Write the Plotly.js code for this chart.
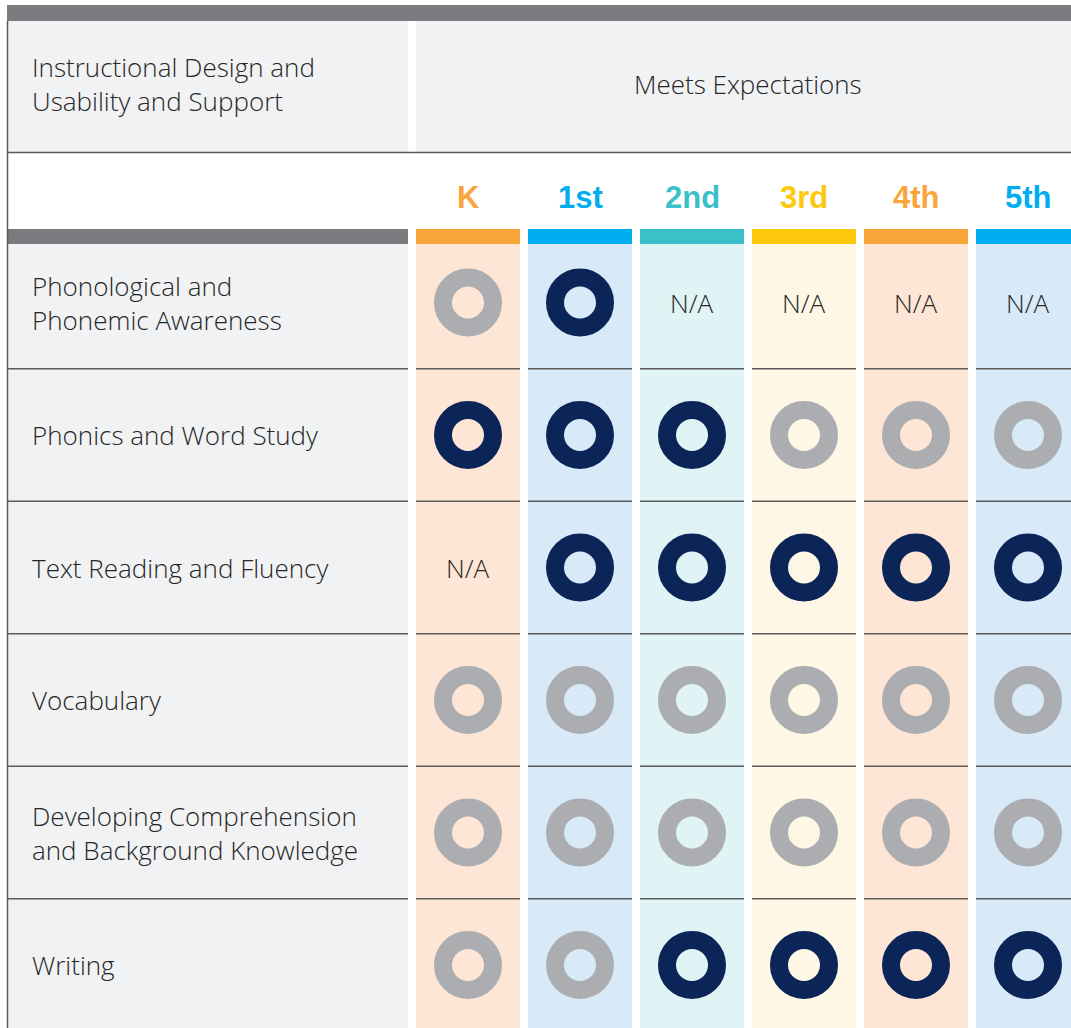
<!DOCTYPE html>
<html>
<head>
<meta charset="utf-8">
<script src="https://cdn.plot.ly/plotly-3.0.1.min.js"></script>
<style>html,body{margin:0;padding:0;background:#fff;}#chart{width:1071px;height:1028px;}</style>
</head>
<body>
<div id="chart"></div>
<script>
// ---- data ----
const grades = ['K', '1st', '2nd', '3rd', '4th', '5th'];
const gradeColors = ['#f9a53c', '#00aeef', '#3bc0c9', '#fec80d', '#f9a53c', '#00aeef'];
const gradeBg = ['#fde6d5', '#d8eaf7', '#e0f3f5', '#fef7e5', '#fde6d5', '#d8eaf7'];
const criteria = [
  'Phonological and<br>Phonemic Awareness',
  'Phonics and Word Study',
  'Text Reading and Fluency',
  'Vocabulary',
  'Developing Comprehension<br>and Background Knowledge',
  'Writing'
];
// M = meets (dark ring), P = partially meets (gray ring), NA = not applicable
const phonological = ['P', 'M', 'NA', 'NA', 'NA', 'NA'];
const phonics      = ['M', 'M', 'M', 'P', 'P', 'P'];
const fluency      = ['NA', 'M', 'M', 'M', 'M', 'M'];
const vocabulary   = ['P', 'P', 'P', 'P', 'P', 'P'];
const comprehension= ['P', 'P', 'P', 'P', 'P', 'P'];
const writing      = ['P', 'P', 'M', 'M', 'M', 'M'];
const ratings = [phonological, phonics, fluency, vocabulary, comprehension, writing];
const headerLeft = 'Instructional Design and<br>Usability and Support';
const headerRight = 'Meets Expectations';

// ---- layout helpers ----
const W = 1071, H = 1028;
const py = p => 1 - p / H;      // pixel y -> paper
const pxp = p => p / W;         // pixel x -> paper
const half = 52 / 112;
const FONT = '"Open Sans", Roboto, "Noto Sans", sans-serif';
const FS = 26;
const TXT = '#262626';
const LINE = '#5a5a5a';

const traces = [];
const styles = {M: '#0c2559', P: '#acadb0'};
['P', 'M'].forEach(code => {
  const xs = [], ys = [];
  ratings.forEach((row, r) => row.forEach((v, c) => { if (v === code) { xs.push(c); ys.push(r); } }));
  traces.push({
    type: 'scatter', mode: 'markers', x: xs, y: ys, hoverinfo: 'skip', showlegend: false,
    marker: {symbol: 'circle', size: 50, color: 'rgba(0,0,0,0)', line: {width: 18, color: styles[code]}}
  });
});

const shapes = [];
const rect = (o) => shapes.push(Object.assign({type: 'rect', layer: 'below', line: {width: 0}}, o));
// top dark bar
rect({xref: 'paper', yref: 'paper', x0: pxp(7), x1: 1, y0: py(5), y1: py(21), fillcolor: '#7b7b7f'});
// header cells
rect({xref: 'paper', yref: 'paper', x0: pxp(7), x1: pxp(408), y0: py(21), y1: py(152), fillcolor: '#f1f2f4'});
rect({xref: 'paper', yref: 'paper', x0: pxp(416), x1: 1, y0: py(21), y1: py(152), fillcolor: '#f1f2f4'});
// line under header
shapes.push({type: 'line', layer: 'below', xref: 'paper', yref: 'paper', x0: pxp(7), x1: 1, y0: py(152.5), y1: py(152.5), line: {color: LINE, width: 1.5}});
// gray bar above left column
rect({xref: 'paper', yref: 'paper', x0: pxp(7), x1: pxp(408), y0: py(229), y1: py(244), fillcolor: '#7b7b7f'});
// left column background
rect({xref: 'paper', yref: 'paper', x0: pxp(7), x1: pxp(408), y0: py(244), y1: 0, fillcolor: '#f1f2f4'});
// grade columns
grades.forEach((g, i) => {
  rect({xref: 'x', yref: 'paper', x0: i - half, x1: i + half, y0: py(244), y1: 0, fillcolor: gradeBg[i]});
  rect({xref: 'x', yref: 'paper', x0: i - half, x1: i + half, y0: py(229), y1: py(244), fillcolor: gradeColors[i]});
});
// row separators
for (let r = 0; r < criteria.length - 1; r++) {
  shapes.push({type: 'line', layer: 'below', xref: 'paper', yref: 'y', x0: pxp(7), x1: pxp(408), y0: r + 0.5, y1: r + 0.5, line: {color: LINE, width: 1.5}});
  grades.forEach((g, i) => {
    shapes.push({type: 'line', layer: 'below', xref: 'x', yref: 'y', x0: i - half, x1: i + half, y0: r + 0.5, y1: r + 0.5, line: {color: LINE, width: 1.5}});
  });
}
// left border
shapes.push({type: 'line', layer: 'below', xref: 'paper', yref: 'paper', x0: pxp(7.5), x1: pxp(7.5), y0: py(21), y1: 0, line: {color: LINE, width: 1.5}});

const annotations = [];
const baseFont = () => ({family: FONT, size: FS, color: TXT, weight: 300});
const leftText = (o, text) => annotations.push(Object.assign({showarrow: false, font: baseFont(), xanchor: 'left', yanchor: 'middle', align: 'left', text: text}, o));
leftText({xref: 'paper', yref: 'paper', x: pxp(30), y: py(84)}, headerLeft);
annotations.push({showarrow: false, xref: 'paper', yref: 'paper', x: pxp(748), y: py(84), xanchor: 'center', yanchor: 'middle', text: headerRight, font: baseFont()});
grades.forEach((g, i) => {
  annotations.push({showarrow: false, xref: 'x', yref: 'paper', x: i, y: py(198), xanchor: 'center', yanchor: 'middle', text: '<b>' + g + '</b>',
    font: {family: '"Liberation Sans", Arial, sans-serif', size: 31, color: gradeColors[i]}});
});
criteria.forEach((c, r) => {
  leftText({xref: 'paper', yref: 'y', x: pxp(30), y: r}, c);
});
ratings.forEach((row, r) => row.forEach((v, c) => {
  if (v === 'NA') annotations.push({showarrow: false, xref: 'x', yref: 'y', x: c, y: r, xanchor: 'center', yanchor: 'middle', text: 'N/A', font: baseFont()});
}));

const layout = {
  width: W, height: H,
  margin: {l: 0, r: 0, t: 0, b: 0, pad: 0},
  paper_bgcolor: '#ffffff', plot_bgcolor: '#ffffff',
  xaxis: {range: [-468 / 112, (W - 468) / 112], visible: false, showgrid: false, zeroline: false, fixedrange: true},
  yaxis: {range: [1 + (H - 435) / 132.5, 1 - 435 / 132.5], visible: false, showgrid: false, zeroline: false, fixedrange: true},
  shapes: shapes,
  annotations: annotations,
  showlegend: false
};
Plotly.newPlot('chart', traces, layout, {staticPlot: true, displayModeBar: false});
</script>
</body>
</html>
